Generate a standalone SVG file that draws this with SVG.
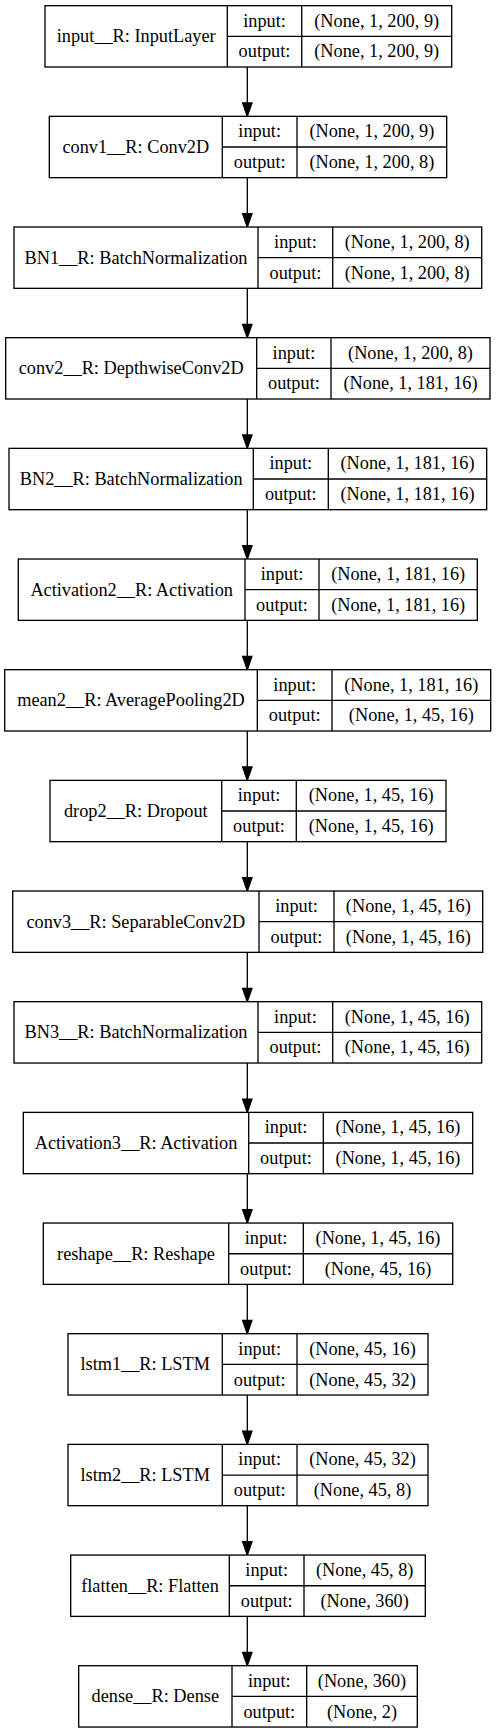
<svg xmlns="http://www.w3.org/2000/svg" width="496" height="1733" viewBox="0 0 496 1733">
<style>
.bg{fill:#fff}
.box{fill:#fff;stroke:#000;stroke-width:1.33}
.ln{stroke:#000;stroke-width:1.33;fill:none}
text{font-family:"Liberation Serif","Times New Roman",serif;font-size:18.3px;fill:#000;text-anchor:middle}
.edge{stroke:#000;stroke-width:1.33;fill:none}
</style>
<defs>
<marker id="ah" markerUnits="userSpaceOnUse" viewBox="0 -6 15 12" markerWidth="15" markerHeight="12" refX="0" refY="0" orient="auto" overflow="visible">
<path d="M0,-4.67 L13.33,0 L0,4.67 Z" fill="#000" stroke="#000" stroke-width="1.33"/>
</marker>
</defs>
<rect class="bg" x="0" y="0" width="496" height="1733"/>

<g id="connectors">
<line class="edge" x1="247.3" y1="67" x2="247.3" y2="103.01" marker-end="url(#ah)"/>
<line class="edge" x1="247.3" y1="177.67" x2="247.3" y2="213.68" marker-end="url(#ah)"/>
<line class="edge" x1="247.3" y1="288.34" x2="247.3" y2="324.35" marker-end="url(#ah)"/>
<line class="edge" x1="247.3" y1="399.01" x2="247.3" y2="435.02" marker-end="url(#ah)"/>
<line class="edge" x1="247.3" y1="509.68" x2="247.3" y2="545.69" marker-end="url(#ah)"/>
<line class="edge" x1="247.3" y1="620.35" x2="247.3" y2="656.36" marker-end="url(#ah)"/>
<line class="edge" x1="247.3" y1="731.02" x2="247.3" y2="767.03" marker-end="url(#ah)"/>
<line class="edge" x1="247.3" y1="841.69" x2="247.3" y2="877.70" marker-end="url(#ah)"/>
<line class="edge" x1="247.3" y1="952.36" x2="247.3" y2="988.37" marker-end="url(#ah)"/>
<line class="edge" x1="247.3" y1="1063.03" x2="247.3" y2="1099.04" marker-end="url(#ah)"/>
<line class="edge" x1="247.3" y1="1173.70" x2="247.3" y2="1209.71" marker-end="url(#ah)"/>
<line class="edge" x1="247.3" y1="1284.37" x2="247.3" y2="1320.38" marker-end="url(#ah)"/>
<line class="edge" x1="247.3" y1="1395.04" x2="247.3" y2="1431.05" marker-end="url(#ah)"/>
<line class="edge" x1="247.3" y1="1505.71" x2="247.3" y2="1541.72" marker-end="url(#ah)"/>
<line class="edge" x1="247.3" y1="1616.38" x2="247.3" y2="1652.39" marker-end="url(#ah)"/>
</g>

<g id="input" transform="translate(0,5.67)">
<rect class="box" x="45" y="0" width="406.7" height="61.33"/>
<line class="ln" x1="227.3" y1="0" x2="227.3" y2="61.33"/>
<line class="ln" x1="301.7" y1="0" x2="301.7" y2="61.33"/>
<line class="ln" x1="227.3" y1="30.67" x2="451.7" y2="30.67"/>
<text x="136.2" y="36.5">input__R: InputLayer</text>
<text x="264.5" y="21.1">input:</text>
<text x="264.5" y="51.8">output:</text>
<text x="376.7" y="21.1">(None, 1, 200, 9)</text>
<text x="376.7" y="51.8">(None, 1, 200, 9)</text>
</g>

<g id="conv1" transform="translate(0,116.34)">
<rect class="box" x="49.3" y="0" width="397.4" height="61.33"/>
<line class="ln" x1="222.3" y1="0" x2="222.3" y2="61.33"/>
<line class="ln" x1="297" y1="0" x2="297" y2="61.33"/>
<line class="ln" x1="222.3" y1="30.67" x2="446.7" y2="30.67"/>
<text x="135.8" y="36.5">conv1__R: Conv2D</text>
<text x="259.7" y="21.1">input:</text>
<text x="259.7" y="51.8">output:</text>
<text x="371.9" y="21.1">(None, 1, 200, 9)</text>
<text x="371.9" y="51.8">(None, 1, 200, 8)</text>
</g>

<g id="BN1" transform="translate(0,227.01)">
<rect class="box" x="14" y="0" width="467.7" height="61.33"/>
<line class="ln" x1="258" y1="0" x2="258" y2="61.33"/>
<line class="ln" x1="332.7" y1="0" x2="332.7" y2="61.33"/>
<line class="ln" x1="258" y1="30.67" x2="481.7" y2="30.67"/>
<text x="136" y="36.5">BN1__R: BatchNormalization</text>
<text x="295.4" y="21.1">input:</text>
<text x="295.4" y="51.8">output:</text>
<text x="407.2" y="21.1">(None, 1, 200, 8)</text>
<text x="407.2" y="51.8">(None, 1, 200, 8)</text>
</g>

<g id="conv2" transform="translate(0,337.68)">
<rect class="box" x="5.7" y="0" width="484.3" height="61.33"/>
<line class="ln" x1="256.7" y1="0" x2="256.7" y2="61.33"/>
<line class="ln" x1="331" y1="0" x2="331" y2="61.33"/>
<line class="ln" x1="256.7" y1="30.67" x2="490" y2="30.67"/>
<text x="131.2" y="36.5">conv2__R: DepthwiseConv2D</text>
<text x="293.9" y="21.1">input:</text>
<text x="293.9" y="51.8">output:</text>
<text x="410.5" y="21.1">(None, 1, 200, 8)</text>
<text x="410.5" y="51.8">(None, 1, 181, 16)</text>
</g>

<g id="BN2" transform="translate(0,448.35)">
<rect class="box" x="9" y="0" width="477.7" height="61.33"/>
<line class="ln" x1="253.3" y1="0" x2="253.3" y2="61.33"/>
<line class="ln" x1="328.3" y1="0" x2="328.3" y2="61.33"/>
<line class="ln" x1="253.3" y1="30.67" x2="486.7" y2="30.67"/>
<text x="131.2" y="36.5">BN2__R: BatchNormalization</text>
<text x="290.8" y="21.1">input:</text>
<text x="290.8" y="51.8">output:</text>
<text x="407.5" y="21.1">(None, 1, 181, 16)</text>
<text x="407.5" y="51.8">(None, 1, 181, 16)</text>
</g>

<g id="Activation2" transform="translate(0,559.02)">
<rect class="box" x="18.3" y="0" width="459" height="61.33"/>
<line class="ln" x1="245" y1="0" x2="245" y2="61.33"/>
<line class="ln" x1="319" y1="0" x2="319" y2="61.33"/>
<line class="ln" x1="245" y1="30.67" x2="477.3" y2="30.67"/>
<text x="131.7" y="36.5">Activation2__R: Activation</text>
<text x="282" y="21.1">input:</text>
<text x="282" y="51.8">output:</text>
<text x="398.2" y="21.1">(None, 1, 181, 16)</text>
<text x="398.2" y="51.8">(None, 1, 181, 16)</text>
</g>

<g id="mean2" transform="translate(0,669.69)">
<rect class="box" x="4.7" y="0" width="486" height="61.33"/>
<line class="ln" x1="257.3" y1="0" x2="257.3" y2="61.33"/>
<line class="ln" x1="332" y1="0" x2="332" y2="61.33"/>
<line class="ln" x1="257.3" y1="30.67" x2="490.7" y2="30.67"/>
<text x="131" y="36.5">mean2__R: AveragePooling2D</text>
<text x="294.7" y="21.1">input:</text>
<text x="294.7" y="51.8">output:</text>
<text x="411.3" y="21.1">(None, 1, 181, 16)</text>
<text x="411.3" y="51.8">(None, 1, 45, 16)</text>
</g>

<g id="drop2" transform="translate(0,780.36)">
<rect class="box" x="50" y="0" width="396" height="61.33"/>
<line class="ln" x1="221.7" y1="0" x2="221.7" y2="61.33"/>
<line class="ln" x1="296.3" y1="0" x2="296.3" y2="61.33"/>
<line class="ln" x1="221.7" y1="30.67" x2="446" y2="30.67"/>
<text x="135.8" y="36.5">drop2__R: Dropout</text>
<text x="259" y="21.1">input:</text>
<text x="259" y="51.8">output:</text>
<text x="371.2" y="21.1">(None, 1, 45, 16)</text>
<text x="371.2" y="51.8">(None, 1, 45, 16)</text>
</g>

<g id="conv3" transform="translate(0,891.03)">
<rect class="box" x="12.7" y="0" width="470" height="61.33"/>
<line class="ln" x1="259" y1="0" x2="259" y2="61.33"/>
<line class="ln" x1="334" y1="0" x2="334" y2="61.33"/>
<line class="ln" x1="259" y1="30.67" x2="482.7" y2="30.67"/>
<text x="135.8" y="36.5">conv3__R: SeparableConv2D</text>
<text x="296.5" y="21.1">input:</text>
<text x="296.5" y="51.8">output:</text>
<text x="408.3" y="21.1">(None, 1, 45, 16)</text>
<text x="408.3" y="51.8">(None, 1, 45, 16)</text>
</g>

<g id="BN3" transform="translate(0,1001.70)">
<rect class="box" x="14" y="0" width="467.7" height="61.33"/>
<line class="ln" x1="258" y1="0" x2="258" y2="61.33"/>
<line class="ln" x1="332.7" y1="0" x2="332.7" y2="61.33"/>
<line class="ln" x1="258" y1="30.67" x2="481.7" y2="30.67"/>
<text x="136" y="36.5">BN3__R: BatchNormalization</text>
<text x="295.4" y="21.1">input:</text>
<text x="295.4" y="51.8">output:</text>
<text x="407.2" y="21.1">(None, 1, 45, 16)</text>
<text x="407.2" y="51.8">(None, 1, 45, 16)</text>
</g>

<g id="Activation3" transform="translate(0,1112.37)">
<rect class="box" x="23.3" y="0" width="449.4" height="61.33"/>
<line class="ln" x1="248.7" y1="0" x2="248.7" y2="61.33"/>
<line class="ln" x1="323.3" y1="0" x2="323.3" y2="61.33"/>
<line class="ln" x1="248.7" y1="30.67" x2="472.7" y2="30.67"/>
<text x="136" y="36.5">Activation3__R: Activation</text>
<text x="286" y="21.1">input:</text>
<text x="286" y="51.8">output:</text>
<text x="398" y="21.1">(None, 1, 45, 16)</text>
<text x="398" y="51.8">(None, 1, 45, 16)</text>
</g>

<g id="reshape" transform="translate(0,1223.04)">
<rect class="box" x="43.3" y="0" width="409.4" height="61.33"/>
<line class="ln" x1="228.7" y1="0" x2="228.7" y2="61.33"/>
<line class="ln" x1="303.3" y1="0" x2="303.3" y2="61.33"/>
<line class="ln" x1="228.7" y1="30.67" x2="452.7" y2="30.67"/>
<text x="136" y="36.5">reshape__R: Reshape</text>
<text x="266" y="21.1">input:</text>
<text x="266" y="51.8">output:</text>
<text x="378" y="21.1">(None, 1, 45, 16)</text>
<text x="378" y="51.8">(None, 45, 16)</text>
</g>

<g id="lstm1" transform="translate(0,1333.71)">
<rect class="box" x="68" y="0" width="360" height="61.33"/>
<line class="ln" x1="222.3" y1="0" x2="222.3" y2="61.33"/>
<line class="ln" x1="297" y1="0" x2="297" y2="61.33"/>
<line class="ln" x1="222.3" y1="30.67" x2="428" y2="30.67"/>
<text x="145.2" y="36.5">lstm1__R: LSTM</text>
<text x="259.7" y="21.1">input:</text>
<text x="259.7" y="51.8">output:</text>
<text x="362.5" y="21.1">(None, 45, 16)</text>
<text x="362.5" y="51.8">(None, 45, 32)</text>
</g>

<g id="lstm2" transform="translate(0,1444.38)">
<rect class="box" x="68" y="0" width="360" height="61.33"/>
<line class="ln" x1="222.3" y1="0" x2="222.3" y2="61.33"/>
<line class="ln" x1="297" y1="0" x2="297" y2="61.33"/>
<line class="ln" x1="222.3" y1="30.67" x2="428" y2="30.67"/>
<text x="145.2" y="36.5">lstm2__R: LSTM</text>
<text x="259.7" y="21.1">input:</text>
<text x="259.7" y="51.8">output:</text>
<text x="362.5" y="21.1">(None, 45, 32)</text>
<text x="362.5" y="51.8">(None, 45, 8)</text>
</g>

<g id="flatten" transform="translate(0,1555.05)">
<rect class="box" x="70.7" y="0" width="354.6" height="61.33"/>
<line class="ln" x1="229.3" y1="0" x2="229.3" y2="61.33"/>
<line class="ln" x1="304" y1="0" x2="304" y2="61.33"/>
<line class="ln" x1="229.3" y1="30.67" x2="425.3" y2="30.67"/>
<text x="150" y="36.5">flatten__R: Flatten</text>
<text x="266.7" y="21.1">input:</text>
<text x="266.7" y="51.8">output:</text>
<text x="364.7" y="21.1">(None, 45, 8)</text>
<text x="364.7" y="51.8">(None, 360)</text>
</g>

<g id="dense" transform="translate(0,1665.72)">
<rect class="box" x="78.7" y="0" width="338.6" height="61.33"/>
<line class="ln" x1="232" y1="0" x2="232" y2="61.33"/>
<line class="ln" x1="306.7" y1="0" x2="306.7" y2="61.33"/>
<line class="ln" x1="232" y1="30.67" x2="417.3" y2="30.67"/>
<text x="155.3" y="36.5">dense__R: Dense</text>
<text x="269.3" y="21.1">input:</text>
<text x="269.3" y="51.8">output:</text>
<text x="362" y="21.1">(None, 360)</text>
<text x="362" y="51.8">(None, 2)</text>
</g>
</svg>
